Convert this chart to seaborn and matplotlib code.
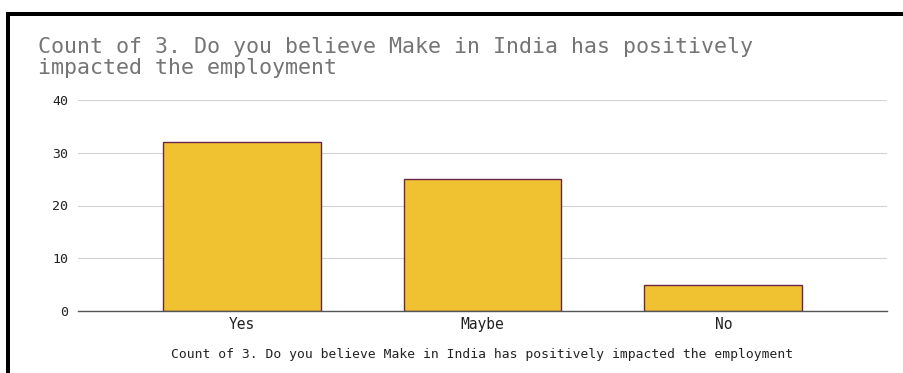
import matplotlib
matplotlib.use("Agg")
import matplotlib.pyplot as plt
from matplotlib.patches import Rectangle
import seaborn as sns
import pandas as pd

# Survey responses
answers = ["Yes", "Maybe", "No"]
counts = [32, 25, 5]
y_ticks = [0, 10, 20, 30, 40]
question = "Count of 3. Do you believe Make in India has positively impacted the employment"

sns.set_theme(style="white")
plt.rcParams["font.family"] = ["DejaVu Sans Mono", "DejaVu Sans"]

W, H = 904, 373
fig = plt.figure(figsize=(W / 100, H / 100), dpi=100)
fig.patch.set_facecolor("white")

def px_axes(left, top, right, bottom):
    return fig.add_axes([left / W, 1 - bottom / H, (right - left) / W, (bottom - top) / H])

ax = px_axes(78, 100, 887, 311)

df = pd.DataFrame({"answer": answers, "count": counts})
sns.barplot(data=df, x="answer", y="count", ax=ax, color="#F0C232",
            width=0.655, edgecolor="#6A2448", linewidth=1.0, saturation=1)

ax.set_xlim(-0.68, 2.68)
ax.set_ylim(0, 40)
ax.set_yticks(y_ticks)
ax.set_yticklabels([str(t) for t in y_ticks])
ax.grid(axis="y", color="#D3D3D3", linewidth=0.8)
ax.set_axisbelow(True)
for s in ["top", "right", "left"]:
    ax.spines[s].set_visible(False)
ax.spines["bottom"].set_color("#555555")
ax.spines["bottom"].set_linewidth(1.0)
ax.tick_params(axis="y", length=0, labelsize=9.5, colors="#222222", pad=7)
ax.tick_params(axis="x", length=0, labelsize=10.5, colors="#222222", pad=4)
ax.set_ylabel("")
ax.set_xlabel(question, fontsize=9.4, color="#222222", labelpad=12)
ax.set_facecolor("white")

fig.text(38 / W, 1 - 37 / H, "Count of 3. Do you believe Make in India has positively\nimpacted the employment",
         ha="left", va="top", fontsize=15.6, color="#757575", linespacing=1.08)

# frame edges along top and left
fig.patches.append(Rectangle((6 / W, 1 - 16 / H), 1, 4 / H, transform=fig.transFigure,
                             facecolor="black", edgecolor="none"))
fig.patches.append(Rectangle((6 / W, 0), 4 / W, 1 - 12 / H, transform=fig.transFigure,
                             facecolor="black", edgecolor="none"))

fig.savefig("out.png", dpi=100)
